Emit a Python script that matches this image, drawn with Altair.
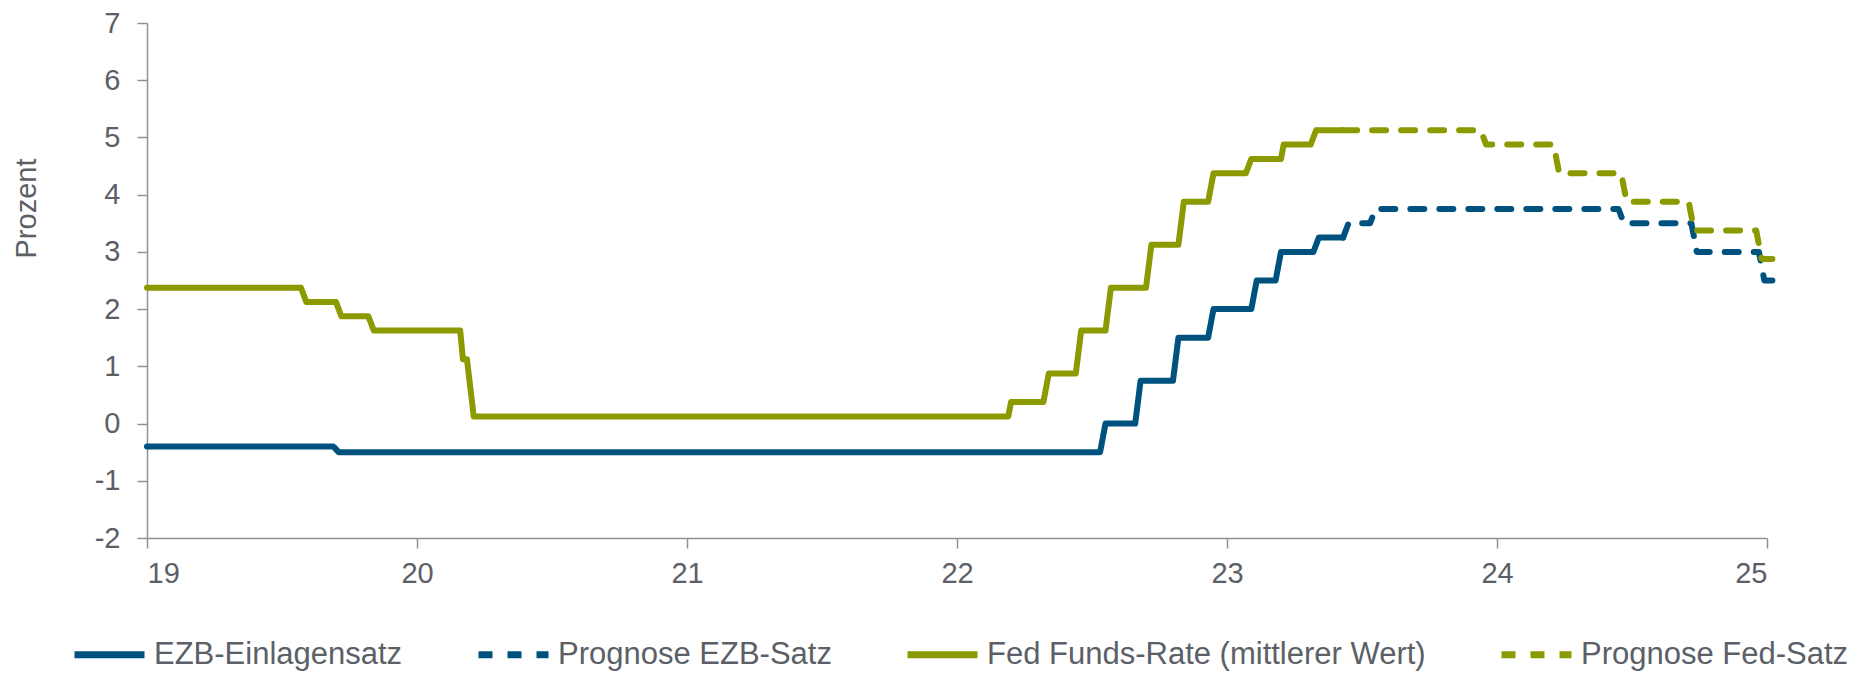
import altair as alt
import pandas as pd

# ---- data (x = year, 19 = 2019) ----
series_names = ["EZB-Einlagensatz", "Prognose EZB-Satz",
                "Fed Funds-Rate (mittlerer Wert)", "Prognose Fed-Satz"]

ezb_x = [19.0, 19.69, 19.71, 22.53, 22.55, 22.66, 22.68, 22.80, 22.82, 22.93, 22.95,
         23.09, 23.11, 23.18, 23.20, 23.32, 23.34, 23.43]
ezb_y = [-0.4, -0.4, -0.5, -0.5, 0.0, 0.0, 0.75, 0.75, 1.5, 1.5, 2.0,
         2.0, 2.5, 2.5, 3.0, 3.0, 3.25, 3.25]

ezb_prog_x = [23.43, 23.45, 23.53, 23.55, 24.45, 24.47, 24.72, 24.74, 24.97, 24.99, 25.02]
ezb_prog_y = [3.25, 3.5, 3.5, 3.75, 3.75, 3.5, 3.5, 3.0, 3.0, 2.5, 2.5]

fed_x = [19.0, 19.57, 19.59, 19.70, 19.72, 19.82, 19.84, 20.16, 20.17, 20.185, 20.21,
         22.19, 22.20, 22.32, 22.34, 22.44, 22.46, 22.55, 22.57, 22.70, 22.72,
         22.82, 22.84, 22.93, 22.95, 23.07, 23.09, 23.20, 23.21, 23.31, 23.33, 23.43]
fed_y = [2.375, 2.375, 2.125, 2.125, 1.875, 1.875, 1.625, 1.625, 1.125, 1.125, 0.125,
         0.125, 0.375, 0.375, 0.875, 0.875, 1.625, 1.625, 2.375, 2.375, 3.125,
         3.125, 3.875, 3.875, 4.375, 4.375, 4.625, 4.625, 4.875, 4.875, 5.125, 5.125]

fed_prog_x = [23.43, 23.94, 23.96, 24.21, 24.23, 24.46, 24.48, 24.71, 24.73, 24.96, 24.98, 25.02]
fed_prog_y = [5.125, 5.125, 4.875, 4.875, 4.375, 4.375, 3.875, 3.875, 3.375, 3.375, 2.875, 2.875]

x_ticks = [19, 20, 21, 22, 23, 24, 25]
y_ticks = [-2, -1, 0, 1, 2, 3, 4, 5, 6, 7]

colors = ["#00527e", "#00527e", "#8a9a00", "#8a9a00"]
dashes = [[1, 0], [14, 15], [1, 0], [14, 15]]

rows = []
for name, xs, ys in zip(series_names,
                        [ezb_x, ezb_prog_x, fed_x, fed_prog_x],
                        [ezb_y, ezb_prog_y, fed_y, fed_prog_y]):
    for i, (xv, yv) in enumerate(zip(xs, ys)):
        rows.append({"serie": name, "jahr": xv, "wert": yv, "idx": i})
df = pd.DataFrame(rows)

text_color = "#5b6067"
axis_color = "#8f9297"

chart = alt.Chart(df).mark_line(
    strokeWidth=6, strokeCap="round", strokeJoin="round"
).encode(
    x=alt.X("jahr:Q",
            scale=alt.Scale(domain=[19, 25], nice=False, zero=False),
            axis=alt.Axis(values=x_ticks, labelExpr="'' + datum.value", title=None, grid=False,
                          labelFontSize=29, labelPadding=11, tickSize=10)),
    y=alt.Y("wert:Q",
            scale=alt.Scale(domain=[-2, 7], nice=False, zero=False),
            axis=alt.Axis(values=y_ticks, labelExpr="'' + datum.value", title="Prozent", grid=False,
                          labelFontSize=29, labelPadding=17, tickSize=10,
                          titleFontSize=29, titleFontWeight="normal",
                          titleX=-121, titleY=185, titleAngle=-90,
                          titleAlign="center", titleBaseline="middle")),
    color=alt.Color("serie:N",
                    scale=alt.Scale(domain=series_names, range=colors),
                    legend=alt.Legend(title=None)),
    strokeDash=alt.StrokeDash("serie:N",
                              scale=alt.Scale(domain=series_names, range=dashes),
                              legend=alt.Legend(title=None)),
    detail="serie:N",
    order="idx:Q",
).properties(
    width=1620,
    height=515,
    autosize=alt.AutoSizeParams(type="none"),
    padding={"left": 139, "top": 15, "right": 95, "bottom": 137},
).configure_view(
    strokeWidth=0
).configure_axis(
    labelColor=text_color,
    titleColor=text_color,
    labelFont="Liberation Sans",
    titleFont="Liberation Sans",
    domainColor=axis_color,
    tickColor=axis_color,
    domainWidth=1.5,
    tickWidth=1.5,
).configure_legend(
    orient="none",
    legendX=-76,
    legendY=593,
    direction="horizontal",
    symbolType="stroke",
    symbolSize=4900,
    symbolStrokeWidth=7,
    labelFontSize=31,
    labelFont="Liberation Sans",
    labelColor=text_color,
    labelOffset=6,
    labelLimit=800,
    columnPadding=61,
    padding=0,
)

chart.save("out.html", embed_options={"renderer": "svg", "actions": False})
